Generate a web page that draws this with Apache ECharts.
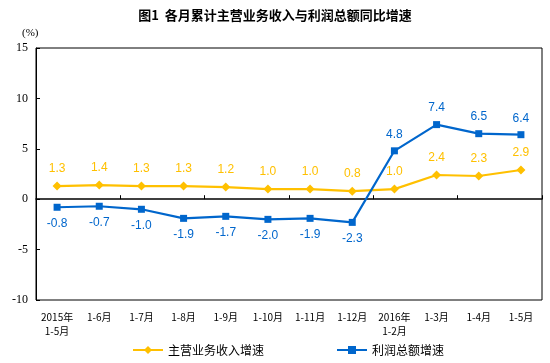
<!DOCTYPE html>
<html><head><meta charset="utf-8">
<script src="https://cdn.jsdelivr.net/npm/echarts@6/dist/echarts.min.js"></script>
<style>html,body{margin:0;padding:0;background:#fff}#c{width:550px;height:363px}</style>
</head><body><div id="c"></div>
<script>
const categories = ['2015年\n1-5月','1-6月','1-7月','1-8月','1-9月','1-10月','1-11月','1-12月','2016年\n1-2月','1-3月','1-4月','1-5月'];
const revenueGrowth = [1.3,1.4,1.3,1.3,1.2,1.0,1.0,0.8,1.0,2.4,2.3,2.9];
const profitGrowth = [-0.8,-0.7,-1.0,-1.9,-1.7,-2.0,-1.9,-2.3,4.8,7.4,6.5,6.4];
const yTicks = {min:-10,max:15,interval:5};
const seriesNames = ['主营业务收入增速','利润总额增速'];
const title = '图1  各月累计主营业务收入与利润总额同比增速';

const YEL = '#FFC000', BLU = '#0066CC';
const chart = echarts.init(document.getElementById('c'));
chart.setOption({
  animation:false,
  title:{text:title,left:'center',top:4,textStyle:{fontFamily:'Noto Sans CJK SC',fontWeight:'bold',fontSize:13,color:'#000'}},
  graphic:[{type:'text',left:22,top:28,style:{text:'(%)',font:'11px "Liberation Serif"',fill:'#000'}}],
  grid:{left:36,right:8,top:48,bottom:63,show:true,borderColor:'#000',borderWidth:1,backgroundColor:'transparent'},
  legend:{bottom:2,left:127,itemWidth:30,itemHeight:10,itemGap:72,
    textStyle:{fontFamily:'Noto Sans CJK SC',fontSize:12,color:'#000'},data:seriesNames},
  xAxis:[
    {type:'category',data:categories,boundaryGap:true,axisLine:{onZero:true,lineStyle:{color:'#000',width:1.5}},
     axisTick:{show:true,inside:true,length:4,lineStyle:{color:'#000'}},axisLabel:{show:false},splitLine:{show:false}},
    {type:'category',data:categories,boundaryGap:true,position:'bottom',axisLine:{onZero:false,show:false},
     axisTick:{show:false},axisLabel:{show:true,interval:0,margin:10,fontFamily:'Noto Sans CJK SC',fontSize:10,color:'#000',lineHeight:14}}
  ],
  yAxis:{type:'value',min:yTicks.min,max:yTicks.max,interval:yTicks.interval,
    axisLine:{show:true,onZero:false,lineStyle:{color:'#000'}},axisTick:{show:true,inside:true,length:4,lineStyle:{color:'#000'}},
    axisLabel:{fontFamily:'Liberation Serif',fontSize:12,color:'#000',margin:8},splitLine:{show:false}},
  series:[
    {name:seriesNames[0],type:'line',data:revenueGrowth,xAxisIndex:0,symbol:'diamond',symbolSize:9,
     itemStyle:{color:YEL},lineStyle:{color:YEL,width:2.2},
     label:{show:true,position:'top',distance:7,color:YEL,fontFamily:'Liberation Sans',fontSize:12,formatter:p=>p.value.toFixed(1)}},
    {name:seriesNames[1],type:'line',data:profitGrowth.map(v=>({value:v,label:{position:v<0?'bottom':'top'}})),xAxisIndex:0,symbol:'rect',symbolSize:7,
     itemStyle:{color:BLU},lineStyle:{color:BLU,width:2.2},
     label:{show:true,distance:7,color:BLU,fontFamily:'Liberation Sans',fontSize:12,formatter:p=>p.value.toFixed(1)}}
  ]
});
</script></body></html>
